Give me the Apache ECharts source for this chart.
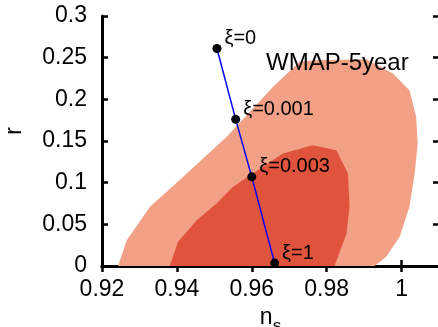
<!DOCTYPE html>
<html><head><meta charset="utf-8">
<script src="https://cdn.jsdelivr.net/npm/echarts@6/dist/echarts.min.js"></script>
<style>html,body{margin:0;padding:0;background:#fff}#c{width:438px;height:327px}</style>
</head><body><div id="c"></div>
<script>
// 95% CL contour (outer), ns and r
var outerNs = [0.9243,0.9266,0.9328,0.9417,0.9533,0.9657,0.9728,0.9773,0.9906,0.9977,1.0021,1.0039,1.0043,1.0035,1.0021,0.9995,0.9959,0.9928];
var outerR  = [0,0.031,0.071,0.107,0.155,0.215,0.245,0.247,0.248,0.231,0.211,0.179,0.147,0.111,0.071,0.035,0.011,0];
// 68% CL contour (inner)
var innerNs = [0.9381,0.9403,0.9453,0.9506,0.9550,0.9603,0.9683,0.9763,0.9826,0.9857,0.9861,0.9853,0.9821];
var innerR  = [0,0.029,0.055,0.075,0.095,0.111,0.135,0.145,0.139,0.111,0.071,0.039,0];
// model predictions
var xiLabels = ['ξ=0','ξ=0.001','ξ=0.003','ξ=1'];
var xiNs = [0.9507,0.9557,0.9600,0.9661];
var xiR  = [0.261,0.176,0.107,0.0035];
var xTicks = [0.92,0.94,0.96,0.98,1.0];
var yTicks = [0,0.05,0.1,0.15,0.2,0.25,0.3];

var chart = echarts.init(document.getElementById('c'), null, {renderer:'canvas'});
var FONT = 'Liberation Sans';
function polySeries(ns, r, color){
  var data = ns.map(function(v,i){return [v, r[i]];});
  return {
    type:'custom', coordinateSystem:'cartesian2d', silent:true,
    data:[data[0]],
    renderItem:function(params, api){
      var pts = data.map(function(d){return api.coord(d);});
      return {type:'polygon', shape:{points:pts}, style:{fill:color}};
    },
    clip:true, z:1
  };
}
var axisCommon = {
  axisLine:{show:true, lineStyle:{color:'#000', width:3}},
  axisTick:{show:true, inside:true, length:6, lineStyle:{color:'#000', width:2.5}},
  splitLine:{show:false}
};
function fmt(v){ return String(+v.toFixed(2)); }
chart.setOption({
  animation:false,
  grid:{left:102, top:16, width:337, height:250, containLabel:false, outerBoundsMode:'none'},
  xAxis:[
    Object.assign({}, axisCommon, {type:'value', min:xTicks[0], max:1.01, interval:0.02, position:'bottom',
      axisLabel:{show:true, margin:12, fontFamily:FONT, fontSize:23, color:'#000', showMaxLabel:false,
        formatter:function(v){return xTicks.some(function(t){return Math.abs(t-v)<1e-9;})?fmt(v):'';}},
      name:'{n|n}{s|s}', nameLocation:'middle', nameGap:36,
      nameTextStyle:{rich:{n:{fontFamily:FONT, fontSize:23, color:'#000', verticalAlign:'bottom', lineHeight:24},
                           s:{fontFamily:FONT, fontSize:17, color:'#000', verticalAlign:'bottom', lineHeight:14, padding:[0,0,-6,0]}}}}),
    Object.assign({}, axisCommon, {type:'value', min:xTicks[0], max:1.01, interval:0.02, position:'top',
      axisLabel:{show:false}})
  ],
  yAxis:[
    Object.assign({}, axisCommon, {type:'value', min:yTicks[0], max:yTicks[yTicks.length-1], interval:0.05, position:'left',
      axisLabel:{show:true, margin:15, fontFamily:FONT, fontSize:23, color:'#000', formatter:fmt},
      name:'r', nameLocation:'middle', nameGap:76,
      nameTextStyle:{fontFamily:FONT, fontSize:23, color:'#000', padding:[0,0,0,20]}}),
    Object.assign({}, axisCommon, {type:'value', min:yTicks[0], max:yTicks[yTicks.length-1], interval:0.05, position:'right',
      axisLabel:{show:false}})
  ],
  graphic:[{type:'text', left:266, top:51, z:10,
    style:{text:'WMAP-5year', font:'24px "Liberation Sans"', fill:'#000'}}],
  series:[
    polySeries(outerNs, outerR, '#F2A086'),
    polySeries(innerNs, innerR, '#E0533D'),
    {
      type:'line', z:5,
      data:xiNs.map(function(v,i){return {value:[v, xiR[i]], label:{formatter:xiLabels[i]}};}),
      lineStyle:{color:'#0000FF', width:1.5},
      symbol:'circle', symbolSize:9,
      itemStyle:{color:'#000'},
      label:{show:true, position:'right', distance:3, offset:[0,-10], fontFamily:FONT, fontSize:20, color:'#000'},
      clip:false
    }
  ]
});
</script></body></html>
